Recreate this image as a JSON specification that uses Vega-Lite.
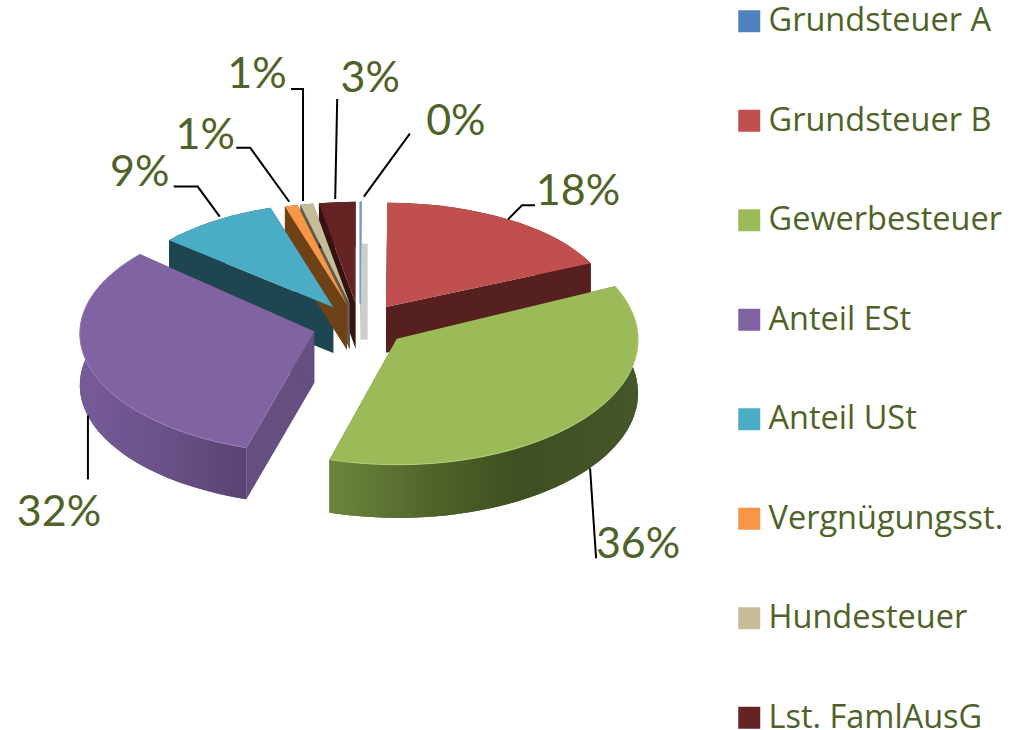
{
"$schema":"https://vega.github.io/schema/vega-lite/v6.json",
"width":1018,"height":730,"padding":0,"autosize":{"type":"none"},"background":"white",
"config":{"view":{"stroke":null}},
"data":{"values":[
{"name":"Grundsteuer A","value":0.1},
{"name":"Grundsteuer B","value":18},
{"name":"Gewerbesteuer","value":36},
{"name":"Anteil ESt","value":32},
{"name":"Anteil USt","value":9},
{"name":"Vergnügungsst.","value":1},
{"name":"Hundesteuer","value":1},
{"name":"Lst. FamlAusG","value":2.9}
]},
"transform":[
{"stack":"value","groupby":[],"as":["v0","v1"]},
{"calculate":"datum.v0/100*2*PI","as":"a0"},
{"calculate":"datum.v1/100*2*PI","as":"a1"},
{"calculate":"(datum.a0+datum.a1)/2","as":"m"},
{"calculate":"-149+48*sin(datum.m)","as":"cx"},
{"calculate":"-40-21.4*cos(datum.m)","as":"cy"},
{"calculate":"234-10*cos(datum.m)+6*max(0,-sin(datum.m))","as":"rx"},
{"calculate":"116-14*cos(datum.m)","as":"ry"},
{"calculate":"50-5*cos(datum.m)","as":"d"},
{"calculate":"datum.cx+datum.rx*sin(datum.a0)*(sin(datum.a0)<0?1-0.1*cos(datum.a0):1)","as":"x0"},
{"calculate":"datum.cy-datum.ry*cos(datum.a0)","as":"y0"},
{"calculate":"datum.cx+datum.rx*sin(datum.a1)*(sin(datum.a1)<0?1-0.1*cos(datum.a1):1)","as":"x1"},
{"calculate":"datum.cy-datum.ry*cos(datum.a1)","as":"y1"},
{"calculate":"datum.a1-datum.a0>PI?1:0","as":"lg"},
{"calculate":"'A'+datum.rx+','+datum.ry+' 0 '+datum.lg","as":"arc"},
{"calculate":"'M'+datum.cx+','+datum.cy+'L'+datum.x0+','+datum.y0+datum.arc+' 1 '+datum.x1+','+datum.y1+'Z'","as":"topPath"},
{"calculate":"'M'+datum.x0+','+datum.y0+datum.arc+' 1 '+datum.x1+','+datum.y1","as":"edgePath"},
{"calculate":"'M'+datum.cx+','+datum.cy+'L'+datum.x0+','+datum.y0+'L'+datum.x0+','+(datum.y0+datum.d)+'L'+datum.cx+','+(datum.cy+datum.d)+'Z'","as":"f0Path"},
{"calculate":"'M'+datum.cx+','+datum.cy+'L'+datum.x1+','+datum.y1+'L'+datum.x1+','+(datum.y1+datum.d)+'L'+datum.cx+','+(datum.cy+datum.d)+'Z'","as":"f1Path"},
{"calculate":"'M'+datum.x0+','+datum.y0+datum.arc+' 1 '+datum.x1+','+datum.y1+'L'+datum.x1+','+(datum.y1+datum.d)+datum.arc+' 0 '+datum.x0+','+(datum.y0+datum.d)+'Z'","as":"rimPath"},
{"calculate":"'M'+(datum.cx+4)+','+(datum.cy-60)+'L'+(datum.cx+4)+','+(datum.cy+36)","as":"shadowPath"},
{"calculate":"'M'+datum.cx+','+datum.cy+'L'+datum.x0+','+datum.y0","as":"spokePath"},
{"calculate":"{'Grundsteuer A':'#a6a6a6','Grundsteuer B':'#55201d','Gewerbesteuer':'#4a5c28','Anteil ESt':'#654e80','Anteil USt':'#1d4650','Vergnügungsst.':'#6e4216','Hundesteuer':'#5f5b48','Lst. FamlAusG':'#361210'}[datum.name]","as":"wall"},
{"calculate":"datum.cx+datum.rx*sin(datum.m)","as":"rimx"},
{"calculate":"datum.cy-datum.ry*cos(datum.m)+(cos(datum.m)<0?datum.d:0)","as":"rimy"},
{"calculate":"{'Grundsteuer A':[49,-68,49,-68,95,-82,3,-5],'Grundsteuer B':[14,-14,27,-14,70,-29,0,0],'Gewerbesteuer':[15,86,15,86,57,71,9,-4],'Anteil ESt':[5,60,5,60,-24,92,5,-4],'Anteil USt':[-8,-34,-32,-34,-66,-50,14,-4],'Vergnügungsst.':[-35,-58,-49,-58,-80,-72,4,-4],'Hundesteuer':[1,-115,-11,-115,-45,-131,1,-3],'Lst. FamlAusG':[2,-103,2,-103,35,-125,0,-3]}[datum.name]","as":"t"},
{"calculate":"'M'+(datum.rimx+datum.t[6])+','+(datum.rimy+datum.t[7])+'L'+(datum.rimx+datum.t[0])+','+(datum.rimy+datum.t[1])+'L'+(datum.rimx+datum.t[2])+','+(datum.rimy+datum.t[3])","as":"leadPath"},
{"calculate":"509+datum.rimx+datum.t[4]","as":"lx"},
{"calculate":"367+datum.rimy+datum.t[5]","as":"ly"},
{"calculate":"round(datum.value)+'%'","as":"lab"}
],
"layer":[
{"transform":[{"filter":"datum.name==='Grundsteuer A'"}],
 "mark":{"type":"point","filled":false,"opacity":0.9,"size":4,"strokeWidth":7,"color":"#c8c8c8"},
 "encoding":{"shape":{"field":"shadowPath","type":"nominal","scale":null,"legend":null}}},
{"mark":{"type":"point","filled":true,"opacity":1,"size":4},
 "encoding":{"shape":{"field":"f0Path","type":"nominal","scale":null,"legend":null},"fill":{"field":"wall","type":"nominal","scale":null,"legend":null}}},
{"mark":{"type":"point","filled":true,"opacity":1,"size":4},
 "encoding":{"shape":{"field":"f1Path","type":"nominal","scale":null,"legend":null},"fill":{"field":"wall","type":"nominal","scale":null,"legend":null}}},
{"mark":{"type":"point","filled":true,"opacity":1,"size":4},
 "encoding":{"shape":{"field":"rimPath","type":"nominal","scale":null,"legend":null},"fill":{"field":"wall","type":"nominal","scale":null,"legend":null}}},
{"transform":[{"filter":"datum.name==='Vergnügungsst.'"}],
 "mark":{"type":"point","filled":true,"opacity":1,"size":4,"color":"#6e4216"},
 "encoding":{"shape":{"field":"f0Path","type":"nominal","scale":null,"legend":null}}},
{"transform":[{"filter":"datum.name==='Gewerbesteuer'"}],
 "mark":{"type":"point","filled":true,"opacity":1,"size":4,"color":{"x1":0,"x2":1,"y1":0,"y2":0,"gradient":"linear","stops":[{"offset":0,"color":"#6c853c"},{"offset":0.35,"color":"#4f6229"},{"offset":0.6,"color":"#3f4f22"},{"offset":1,"color":"#45562a"}]}},
 "encoding":{"shape":{"field":"rimPath","type":"nominal","scale":null,"legend":null}}},
{"transform":[{"filter":"datum.name==='Anteil ESt'"}],
 "mark":{"type":"point","filled":true,"opacity":1,"size":4,"color":{"x1":0,"x2":1,"y1":0,"y2":0,"gradient":"linear","stops":[{"offset":0,"color":"#765b99"},{"offset":0.5,"color":"#6a5188"},{"offset":1,"color":"#5a4272"}]}},
 "encoding":{"shape":{"field":"rimPath","type":"nominal","scale":null,"legend":null}}},
{"mark":{"type":"point","filled":true,"opacity":1,"size":4},
 "encoding":{"shape":{"field":"topPath","type":"nominal","scale":null,"legend":null},
  "color":{"field":"name","type":"nominal","scale":{"domain":["Grundsteuer A","Grundsteuer B","Gewerbesteuer","Anteil ESt","Anteil USt","Vergnügungsst.","Hundesteuer","Lst. FamlAusG"],"range":["#4f81bd","#c0504d","#9bbb59","#8064a2","#4bacc6","#f79646","#c4bd97","#632423"]},
   "legend":{"title":null,"orient":"none","legendX":733,"legendY":5,"symbolType":"square","symbolSize":484,"symbolStrokeWidth":0,"labelFont":"Open Sans","labelFontSize":32.5,"labelColor":"#4f6228","labelOffset":3,"rowPadding":66.5,"labelLimit":300,"padding":0}}}},
{"transform":[{"filter":"datum.name==='Grundsteuer A'"}],
 "mark":{"type":"point","filled":false,"opacity":1,"size":4,"strokeWidth":1.5,"color":"#6f9bd1"},
 "encoding":{"shape":{"field":"spokePath","type":"nominal","scale":null,"legend":null}}},
{"transform":[{"filter":"datum.name==='Gewerbesteuer'"}],
 "mark":{"type":"point","filled":false,"opacity":1,"size":4,"strokeWidth":1,"color":"#b5d07a"},
 "encoding":{"shape":{"field":"edgePath","type":"nominal","scale":null,"legend":null}}},
{"transform":[{"filter":"datum.name==='Anteil ESt'"}],
 "mark":{"type":"point","filled":false,"opacity":1,"size":4,"strokeWidth":1,"color":"#9a80bd"},
 "encoding":{"shape":{"field":"edgePath","type":"nominal","scale":null,"legend":null}}},
{"mark":{"type":"point","filled":false,"opacity":1,"size":4,"strokeWidth":2,"color":"#000000"},
 "encoding":{"shape":{"field":"leadPath","type":"nominal","scale":null,"legend":null}}},
{"mark":{"type":"text","font":"Lato","fontSize":43,"color":"#4f6228","align":"center","baseline":"middle"},
 "encoding":{"x":{"field":"lx","type":"quantitative","scale":null,"axis":null},"y":{"field":"ly","type":"quantitative","scale":null,"axis":null},"text":{"field":"lab"}}}
]
}
